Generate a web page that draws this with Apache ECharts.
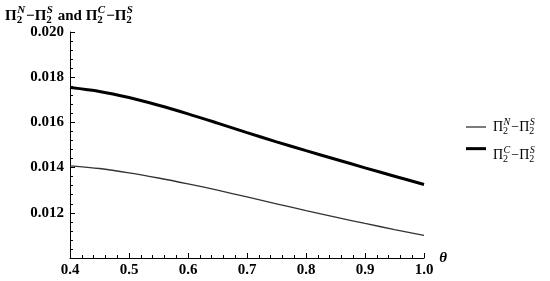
<!DOCTYPE html>
<html>
<head>
<meta charset="utf-8">
<script src="https://cdn.jsdelivr.net/npm/echarts@6/dist/echarts.min.js"></script>
<style>
  html, body { margin: 0; padding: 0; background: #fff; }
  #chart { width: 550px; height: 281px; }
</style>
</head>
<body>
<div id="chart"></div>
<script>
// theta values and the two differences
let thetas = [0.4, 0.45, 0.5, 0.55, 0.6, 0.65, 0.7, 0.75, 0.8, 0.85, 0.9, 0.95, 1.0];
let diffN = [0.01408, 0.01396, 0.01377, 0.01354, 0.01328, 0.01300, 0.01270,
             0.01240, 0.01210, 0.01181, 0.01153, 0.01126, 0.01100];
let diffC = [0.01754, 0.01737, 0.01710, 0.01676, 0.01638, 0.01597, 0.01555,
             0.01514, 0.01475, 0.01437, 0.01399, 0.01362, 0.01325];
let seriesNames = ['N', 'C'];

const serif = '"Liberation Serif", "Times New Roman", serif';
const ctx = document.createElement('canvas').getContext('2d');

function measure(str, font) {
    ctx.font = font;
    return ctx.measureText(str).width;
}

// text like Π_2^N, index pairs stacked on top of each other
function mathLabel(x, y, parts, size, weight) {
    const big = weight + ' ' + size + 'px ' + serif;
    const small = weight + ' ' + Math.round(size * 0.7) + 'px ' + serif;
    const smallIt = 'italic ' + small;
    let children = [];
    let cx = 0;
    parts.forEach(p => {
        if (p.length === 1) {
            children.push({ type: 'text', x: cx, y: 0,
                style: { text: p[0], font: big, fill: '#000', verticalAlign: 'middle' } });
            cx += measure(p[0], big);
        } else {
            children.push({ type: 'text', x: cx, y: size * 0.3,
                style: { text: p[0], font: small, fill: '#000', verticalAlign: 'middle' } });
            children.push({ type: 'text', x: cx + 0.5, y: -size * 0.36,
                style: { text: p[1], font: smallIt, fill: '#000', verticalAlign: 'middle' } });
            cx += Math.max(measure(p[0], small), measure(p[1], smallIt)) + 1.5;
        }
    });
    return { type: 'group', x: x, y: y, children: children };
}

let pairs = function (ys) {
    return thetas.map((t, i) => [t, ys[i]]);
};

let titleParts = [['Π'], ['2', 'N'], ['−'], ['Π'], ['2', 'S'], [' and '],
                  ['Π'], ['2', 'C'], ['−'], ['Π'], ['2', 'S']];

let option = {
    animation: false,
    backgroundColor: '#fff',
    grid: { left: 70, right: 126, top: 32, bottom: 23, outerBoundsMode: 'none' },
    legend: {
        orient: 'vertical',
        left: 466,
        top: 120,
        padding: 0,
        itemWidth: 20,
        itemHeight: 14,
        itemGap: 14,
        formatter: function () { return ''; },
        data: [
            { name: 'N', icon: 'path://M0,0H20V1.3H0Z' },
            { name: 'C', icon: 'path://M0,0H20V3H0Z' }
        ]
    },
    xAxis: {
        type: 'value',
        min: 0.4,
        max: 1.0,
        interval: 0.1,
        name: 'θ',
        nameGap: 10,
        nameTextStyle: { fontFamily: serif, fontStyle: 'italic', fontWeight: 'bold', fontSize: 15, color: '#000' },
        axisLine: { lineStyle: { color: '#000', width: 1 } },
        axisTick: { inside: true, length: 5, lineStyle: { color: '#000' } },
        minorTick: { show: true, splitNumber: 5, length: 3, lineStyle: { color: '#000' } },
        splitLine: { show: false },
        axisLabel: {
            margin: 5,
            fontFamily: serif, fontWeight: 'bold', fontSize: 15, color: '#000',
            formatter: v => v.toFixed(1)
        }
    },
    yAxis: {
        type: 'value',
        min: 0.010,
        max: 0.020,
        interval: 0.002,
        axisLine: { show: true, lineStyle: { color: '#000', width: 1 } },
        axisTick: { show: true, inside: true, length: 5, lineStyle: { color: '#000' } },
        minorTick: { show: true, splitNumber: 5, length: 3, lineStyle: { color: '#000' } },
        splitLine: { show: false },
        axisLabel: {
            margin: 6,
            showMinLabel: false,
            fontFamily: serif, fontWeight: 'bold', fontSize: 15, color: '#000',
            formatter: v => v.toFixed(3)
        }
    },
    series: [
        {
            name: 'N', type: 'line', data: pairs(diffN), smooth: 0.3,
            symbol: 'none', lineStyle: { color: '#333', width: 1.3 }, itemStyle: { color: '#333' }
        },
        {
            name: 'C', type: 'line', data: pairs(diffC), smooth: 0.3,
            symbol: 'none', lineStyle: { color: '#000', width: 3 }, itemStyle: { color: '#000' }
        }
    ],
    graphic: [
        mathLabel(5, 16, titleParts, 15, 'bold'),
        mathLabel(493, 127, [['Π'], ['2', 'N'], ['−'], ['Π'], ['2', 'S']], 14, 'normal'),
        mathLabel(493, 155, [['Π'], ['2', 'C'], ['−'], ['Π'], ['2', 'S']], 14, 'normal')
    ]
};

let chart = echarts.init(document.getElementById('chart'));
chart.setOption(option);
</script>
</body>
</html>
